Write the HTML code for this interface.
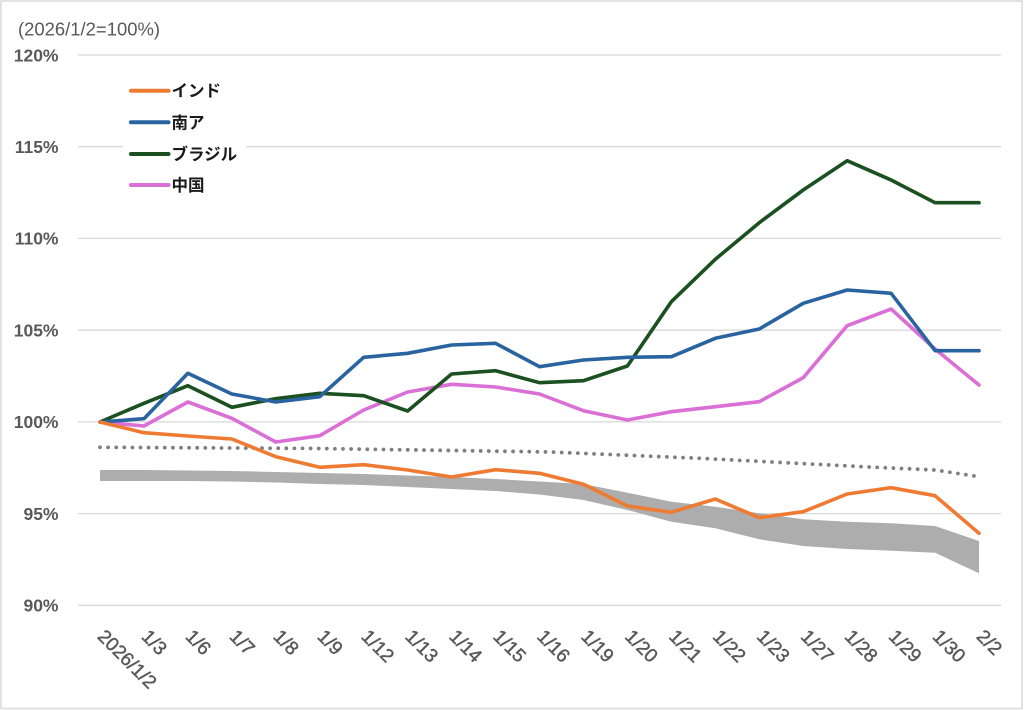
<!DOCTYPE html>
<html>
<head>
<meta charset="utf-8">
<style>
html,body{margin:0;padding:0;background:#fff;}
svg{display:block;}
text{font-family:"Liberation Sans","Noto Sans CJK JP",sans-serif;}
</style>
</head>
<body>
<svg width="1024" height="710" viewBox="0 0 1024 710" xmlns="http://www.w3.org/2000/svg">
<rect x="0" y="0" width="1024" height="710" fill="#fff"/>
<rect x="1" y="1" width="1021" height="707.5" fill="none" stroke="#d9d9d9" stroke-width="1.5"/>

<!-- title -->
<text x="18" y="35.5" font-size="18" fill="#595959" textLength="142" lengthAdjust="spacingAndGlyphs">(2026/1/2=100%)</text>

<!-- gridlines -->
<g stroke="#d9d9d9" stroke-width="1.3">
<line x1="78" y1="55" x2="1001" y2="55"/>
<line x1="78" y1="146.7" x2="1001" y2="146.7"/>
<line x1="78" y1="238.4" x2="1001" y2="238.4"/>
<line x1="78" y1="330.2" x2="1001" y2="330.2"/>
<line x1="78" y1="421.9" x2="1001" y2="421.9"/>
<line x1="78" y1="513.6" x2="1001" y2="513.6"/>
<line x1="78" y1="605.3" x2="1001" y2="605.3"/>
</g>

<!-- y labels -->
<g font-size="17.5" font-weight="bold" fill="#595959" text-anchor="end">
<text x="58.5" y="61.3">120%</text>
<text x="58.5" y="153">115%</text>
<text x="58.5" y="244.7">110%</text>
<text x="58.5" y="336.5">105%</text>
<text x="58.5" y="428.2">100%</text>
<text x="58.5" y="519.9">95%</text>
<text x="58.5" y="611.6">90%</text>
</g>

<!-- gray band -->
<polygon fill="#adadad" points="100,470 143.95,470 187.9,470.5 231.85,471 275.8,472 319.75,473 363.7,474 407.65,475.5 451.6,477 495.55,479 539.5,481.5 583.45,484 627.4,492.7 671.35,501.7 715.3,506.7 759.25,513.3 803.2,519.3 847.15,521.7 891.1,523.3 935.05,526 979,541 979,573.3 935.05,552.7 891.1,550.7 847.15,549 803.2,546 759.25,539.3 715.3,528.3 671.35,521.7 627.4,510 583.45,500 539.5,494.5 495.55,491 451.6,489 407.65,487 363.7,485 319.75,484 275.8,482.5 231.85,481.5 187.9,481 143.95,481 100,481"/>

<!-- dotted line -->
<polyline fill="none" stroke="#7f7f7f" stroke-width="3.8" stroke-linecap="round" stroke-dasharray="0 8.1" points="100,447.3 320,448.5 550,452 700,458.3 863,466.7 935,470 979,476.7"/>

<g fill="none" stroke-width="3.6" stroke-linejoin="round" stroke-linecap="round">
<!-- 中国 pink -->
<polyline stroke="#da6fd5" points="100,422 143.95,426 187.9,402 231.85,418.3 275.8,442 319.75,435.7 363.7,410 407.65,392 451.6,384.3 495.55,387 539.5,394 583.45,410.7 627.4,420 671.35,411.7 715.3,406.7 759.25,401.7 803.2,377.7 847.15,325.7 891.1,309 935.05,349 979,385"/>
<!-- ブラジル green -->
<polyline stroke="#1b5020" points="100,422 143.95,403.3 187.9,385.7 231.85,407.3 275.8,398.7 319.75,393.3 363.7,395.7 407.65,411 451.6,374 495.55,370.7 539.5,382.7 583.45,380.7 627.4,366 671.35,301.7 715.3,259.3 759.25,222.7 803.2,190 847.15,160.7 891.1,180 935.05,202.7 979,202.7"/>
<!-- 南ア blue -->
<polyline stroke="#2a64a0" points="100,422 143.95,418.7 187.9,373.3 231.85,394 275.8,402 319.75,396.7 363.7,357.3 407.65,353.3 451.6,345 495.55,343.3 539.5,366.7 583.45,360 627.4,357.3 671.35,356.7 715.3,338.3 759.25,329 803.2,303.3 847.15,290 891.1,293.3 935.05,350.7 979,350.7"/>
<!-- インド orange -->
<polyline stroke="#ef7b33" points="100,422 143.95,432.7 187.9,436 231.85,439 275.8,456.7 319.75,467.3 363.7,464.7 407.65,470 451.6,477 495.55,469.7 539.5,473.3 583.45,484.3 627.4,506 671.35,512.3 715.3,499 759.25,517.7 803.2,511.7 847.15,494 891.1,487.7 935.05,495.7 979,533.3"/>
</g>

<!-- legend -->
<rect x="123" y="72" width="123" height="128" fill="#fff"/>
<g stroke-width="4" stroke-linecap="round">
<line x1="131" y1="90.7" x2="168.5" y2="90.7" stroke="#ef7b33"/>
<line x1="131" y1="122.3" x2="168.5" y2="122.3" stroke="#2a64a0"/>
<line x1="131" y1="154" x2="168.5" y2="154" stroke="#1b5020"/>
<line x1="131" y1="185" x2="168.5" y2="185" stroke="#da6fd5"/>
</g>
<g font-size="16.5" font-weight="bold" fill="#1a1a1a">
<text x="171.5" y="96.7">インド</text>
<text x="171.5" y="128.5">南ア</text>
<text x="171.5" y="160.2">ブラジル</text>
<text x="171.5" y="191.2">中国</text>
</g>

<!-- x labels -->
<g font-size="19" fill="#595959" stroke="#595959" stroke-width="0.45">
<text transform="translate(96.5,637.5) rotate(45)">2026/1/2</text>
<text transform="translate(140.45,637.5) rotate(45)">1/3</text>
<text transform="translate(184.4,637.5) rotate(45)">1/6</text>
<text transform="translate(228.35,637.5) rotate(45)">1/7</text>
<text transform="translate(272.3,637.5) rotate(45)">1/8</text>
<text transform="translate(316.25,637.5) rotate(45)">1/9</text>
<text transform="translate(360.2,637.5) rotate(45)">1/12</text>
<text transform="translate(404.15,637.5) rotate(45)">1/13</text>
<text transform="translate(448.1,637.5) rotate(45)">1/14</text>
<text transform="translate(492.05,637.5) rotate(45)">1/15</text>
<text transform="translate(536,637.5) rotate(45)">1/16</text>
<text transform="translate(579.95,637.5) rotate(45)">1/19</text>
<text transform="translate(623.9,637.5) rotate(45)">1/20</text>
<text transform="translate(667.85,637.5) rotate(45)">1/21</text>
<text transform="translate(711.8,637.5) rotate(45)">1/22</text>
<text transform="translate(755.75,637.5) rotate(45)">1/23</text>
<text transform="translate(799.7,637.5) rotate(45)">1/27</text>
<text transform="translate(843.65,637.5) rotate(45)">1/28</text>
<text transform="translate(887.6,637.5) rotate(45)">1/29</text>
<text transform="translate(931.55,637.5) rotate(45)">1/30</text>
<text transform="translate(975.5,637.5) rotate(45)">2/2</text>
</g>
</svg>
</body>
</html>
